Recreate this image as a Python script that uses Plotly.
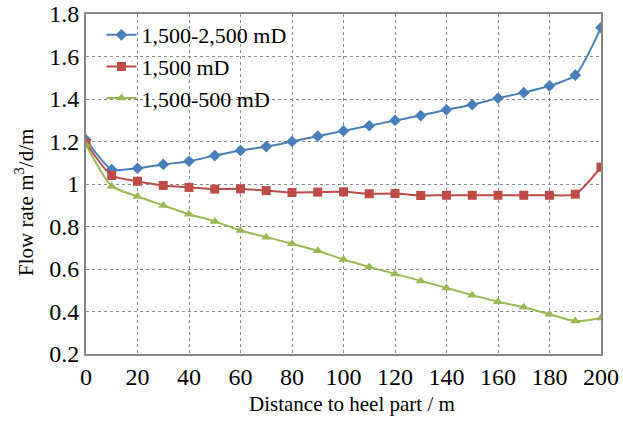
import plotly.graph_objects as go

distance = [0, 10, 20, 30, 40, 50, 60, 70, 80, 90, 100, 110, 120, 130, 140, 150, 160, 170, 180, 190, 200]

perm_high = [1.208, 1.068, 1.074, 1.092, 1.107, 1.134, 1.158, 1.176, 1.200, 1.225, 1.250, 1.274,
             1.299, 1.322, 1.349, 1.373, 1.404, 1.430, 1.462, 1.512, 1.736]
perm_uniform = [1.192, 1.040, 1.013, 0.993, 0.984, 0.976, 0.977, 0.969, 0.960, 0.962, 0.963, 0.954,
                0.955, 0.946, 0.947, 0.947, 0.947, 0.947, 0.947, 0.952, 1.079]
perm_low = [1.184, 0.990, 0.941, 0.899, 0.858, 0.824, 0.781, 0.750, 0.719, 0.686, 0.645, 0.610,
            0.577, 0.544, 0.511, 0.477, 0.446, 0.420, 0.387, 0.355, 0.370]

series_names = ["1,500-2,500 mD", "1,500 mD", "1,500-500 mD"]
colors = ["#4A7EBB", "#BE4B48", "#98B954"]
symbols = ["diamond", "square", "triangle-up"]

y_ticks = [0.2, 0.4, 0.6, 0.8, 1.0, 1.2, 1.4, 1.6, 1.8]
y_tick_text = ["0.2", "0.4", "0.6", "0.8", "1", "1.2", "1.4", "1.6", "1.8"]
x_ticks = [0, 20, 40, 60, 80, 100, 120, 140, 160, 180, 200]

x_title = "Distance to heel part / m"
y_title = "Flow rate m<sup>3</sup>/d/m"

FONT = "Liberation Serif"

fig = go.Figure()
for name, vals, c, s in zip(series_names, [perm_high, perm_uniform, perm_low], colors, symbols):
    fig.add_trace(go.Scatter(
        x=distance, y=vals, name=name, mode="lines+markers",
        line=dict(color=c, width=2, shape="spline", smoothing=0.6),
        marker=dict(symbol=s, size=9, color=c),
    ))

axis_common = dict(
    showline=True, linecolor="#868686", linewidth=2, mirror=True,
    showgrid=True, gridcolor="#8a8a8a", griddash="dot", gridwidth=1,
    ticks="", zeroline=False, automargin=False,
    tickfont=dict(family=FONT, size=24, color="black"),
)

fig.update_layout(
    width=623, height=428,
    margin=dict(l=86, r=22, t=14, b=74),
    paper_bgcolor="white", plot_bgcolor="white",
    font=dict(family=FONT, color="black"),
    showlegend=True,
    legend=dict(
        x=0.03, y=1.0, xanchor="left", yanchor="top",
        bgcolor="rgba(0,0,0,0)", font=dict(family=FONT, size=22, color="black"),
        tracegroupgap=0, itemwidth=30,
    ),
    xaxis=dict(range=[0, 200], tickvals=x_ticks, **axis_common),
    yaxis=dict(range=[0.2, 1.8], tickvals=y_ticks, ticktext=y_tick_text, **axis_common),
    annotations=[
        dict(text=x_title, xref="paper", yref="paper", x=0.5165, y=-0.147,
             xanchor="center", yanchor="middle", showarrow=False,
             font=dict(family=FONT, size=21, color="black")),
        dict(text=y_title, xref="paper", yref="paper", x=-0.1204, y=0.447,
             xanchor="center", yanchor="middle", showarrow=False, textangle=-90,
             font=dict(family=FONT, size=21, color="black")),
    ],
)

fig.write_html("out.html", config={"displayModeBar": False},
               post_script="document.body.style.margin='0px';")
